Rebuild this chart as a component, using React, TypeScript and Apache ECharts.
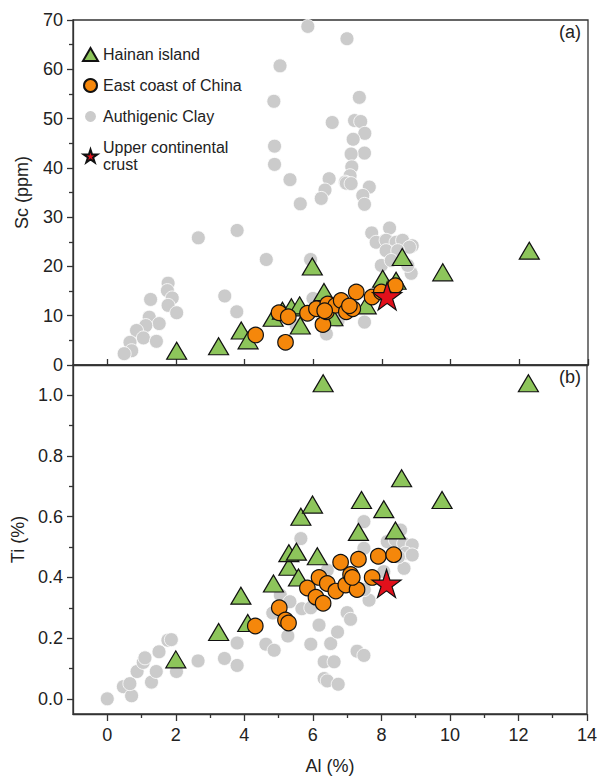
import React, { useEffect, useRef } from "react";
import * as echarts from "echarts";

// ---- Data (Al %, value) ----
const hainanSc: number[][] = [
  [2.02, 2.9], [3.24, 3.8], [3.9, 7.0], [4.1, 5.0], [4.83, 9.6], [5.1, 11.0], [5.36, 11.7],
  [5.6, 12.1], [5.62, 8.0], [5.97, 20.0], [6.31, 14.8], [6.47, 10.0], [6.57, 9.7], [7.54, 12.1],
  [8.02, 17.5], [8.41, 17.1], [8.59, 21.9], [9.77, 18.8], [12.29, 23.2],
];
const hainanTi: number[][] = [
  [2.0, 0.13], [3.25, 0.22], [3.9, 0.34], [4.1, 0.25], [4.85, 0.38], [5.3, 0.435], [5.3, 0.48],
  [5.52, 0.485], [5.58, 0.4], [5.65, 0.6], [5.99, 0.64], [6.13, 0.47], [6.3, 1.04], [7.33, 0.55],
  [7.42, 0.655], [8.07, 0.625], [8.41, 0.555], [8.59, 0.727], [9.77, 0.655], [12.29, 1.04],
];
const eastSc: number[][] = [
  [4.32, 6.1], [5.19, 4.6], [5.0, 10.6], [5.27, 9.8], [5.83, 10.5], [6.09, 11.4], [6.28, 8.2],
  [6.38, 10.8], [6.42, 12.4], [6.65, 12.1], [6.81, 13.1], [6.96, 10.8], [7.15, 11.4], [7.25, 14.8],
  [7.71, 13.8], [7.98, 14.8], [8.39, 16.1], [6.33, 11.0], [7.05, 12.0],
];
const eastTi: number[][] = [
  [4.32, 0.24], [5.02, 0.3], [5.2, 0.26], [5.29, 0.25], [5.84, 0.365], [6.09, 0.335], [6.3, 0.315],
  [6.18, 0.4], [6.42, 0.38], [6.67, 0.355], [6.96, 0.375], [7.1, 0.41], [7.29, 0.36], [7.73, 0.4],
  [6.81, 0.45], [7.33, 0.46], [7.91, 0.47], [8.36, 0.475], [7.15, 0.4],
];
const claySc: number[][] = [
  [5.84, 68.7], [6.98, 66.2], [5.03, 60.7], [4.85, 53.5], [7.34, 54.3], [6.55, 49.2], [7.2, 49.6],
  [7.38, 49.4], [7.5, 47.0], [7.16, 45.8], [7.49, 43.0], [7.1, 42.8], [7.12, 40.2], [7.07, 38.4],
  [6.93, 37.1], [6.46, 37.8], [5.32, 37.6], [4.87, 44.4], [4.87, 40.7], [6.34, 35.5], [7.63, 36.1],
  [6.23, 33.8], [5.62, 32.7], [7.44, 34.4], [7.49, 32.6], [6.96, 36.9], [7.1, 36.8], [3.78, 27.3],
  [2.65, 25.8], [4.63, 21.4], [5.92, 21.4], [7.7, 26.8], [8.22, 27.8], [7.83, 24.9], [8.12, 25.3],
  [8.41, 24.9], [8.6, 25.3], [8.88, 24.2], [8.22, 22.9], [8.5, 22.6], [8.8, 23.9], [8.12, 23.2],
  [8.46, 23.2], [8.85, 18.6], [8.75, 20.2], [7.98, 20.2], [8.27, 21.2], [5.99, 13.5], [7.49, 8.7],
  [3.77, 10.8], [3.42, 14.0], [1.77, 16.6], [1.75, 15.1], [1.89, 13.6], [1.26, 13.3], [1.77, 12.1],
  [2.02, 10.6], [1.22, 9.7], [1.51, 8.4], [1.12, 8.0], [0.85, 7.0], [1.05, 5.5], [0.66, 4.6],
  [1.43, 4.8], [0.71, 2.9], [0.49, 2.3], [6.28, 7.7], [6.72, 9.0], [6.38, 6.3], [5.5, 8.0],
];
const clayTi: number[][] = [
  [0.0, 0.0], [0.47, 0.04], [0.71, 0.01], [0.66, 0.05], [0.87, 0.09], [1.29, 0.055], [1.05, 0.12],
  [1.1, 0.135], [1.43, 0.09], [1.51, 0.155], [1.77, 0.193], [1.87, 0.195], [2.02, 0.09], [2.65, 0.125],
  [3.42, 0.133], [3.79, 0.184], [3.79, 0.11], [4.63, 0.18], [4.87, 0.16], [4.83, 0.283], [5.05, 0.342],
  [5.33, 0.32], [5.27, 0.207], [5.68, 0.297], [5.94, 0.18], [6.18, 0.243], [6.33, 0.122], [6.62, 0.122],
  [6.33, 0.067], [6.42, 0.059], [6.74, 0.048], [6.52, 0.182], [6.72, 0.22], [7.0, 0.284], [7.1, 0.262],
  [7.29, 0.157], [7.49, 0.143], [7.64, 0.325], [8.07, 0.419], [8.66, 0.43], [7.49, 0.584], [5.65, 0.528],
  [8.56, 0.556], [7.49, 0.496], [8.17, 0.518], [8.41, 0.523], [8.65, 0.512], [8.9, 0.507], [8.7, 0.48],
  [8.5, 0.468], [8.9, 0.474], [6.42, 0.424], [5.94, 0.3], [7.5, 0.36],
];
const uccSc: number[][] = [[8.15, 14]];
const uccTi: number[][] = [[8.15, 0.38]];

const xMajor = [0, 2, 4, 6, 8, 10, 12, 14];
const xMinor = [1, 3, 5, 7, 9, 11, 13];
const tiMajor = [0, 0.2, 0.4, 0.6, 0.8, 1.0];
const tiMinor = [0.1, 0.3, 0.5, 0.7, 0.9];

const NAMES = ["Hainan island", "East coast of China", "Authigenic Clay", "Upper continental crust"];
const STAR = "path://M0,-10L2.245,-3.09L9.511,-3.09L3.633,1.18L5.878,8.09L0,3.82L-5.878,8.09L-3.633,1.18L-9.511,-3.09L-2.245,-3.09Z";

const FONT = "'Liberation Sans', Arial, sans-serif";
const AX = "#333";

export default function App() {
  const ref = useRef<HTMLDivElement>(null);
  useEffect(() => {
    if (!ref.current) return;
    const chart = echarts.init(ref.current, undefined, { renderer: "svg" });
    const label = { fontSize: 18, color: "#222", fontFamily: FONT };
    const styles = [
      { symbol: "circle", symbolSize: 14, itemStyle: { color: "#cbcbcb", borderColor: "#ffffff", borderWidth: 0.8, opacity: 1 }, z: 2 },
      { symbol: "triangle", symbolSize: [20, 17], itemStyle: { color: "#8dc55b", borderColor: "#111", borderWidth: 1.2, opacity: 1 }, z: 3 },
      { symbol: "circle", symbolSize: 15.5, itemStyle: { color: "#f5870b", borderColor: "#111", borderWidth: 1.2, opacity: 1 }, z: 4 },
      { symbol: STAR, symbolSize: [29, 28], itemStyle: { color: "#e2101b", borderColor: "#111", borderWidth: 1.2, opacity: 1 }, z: 5 },
    ];
    const sets = [
      [NAMES[2], claySc, clayTi, styles[0]],
      [NAMES[0], hainanSc, hainanTi, styles[1]],
      [NAMES[1], eastSc, eastTi, styles[2]],
      [NAMES[3], uccSc, uccTi, styles[3]],
    ] as any[];
    const series: any[] = [];
    sets.forEach(([name, top, bot, st]) => {
      series.push({ type: "scatter", name, data: top, xAxisIndex: 0, yAxisIndex: 0, ...st });
      series.push({ type: "scatter", name, data: bot, xAxisIndex: 1, yAxisIndex: 1, ...st });
    });
    chart.setOption({
      animation: false,
      textStyle: { fontFamily: FONT },
      grid: [
        { left: 73, top: 20, width: 515, height: 345, show: true, borderColor: AX, borderWidth: 1.3, backgroundColor: "transparent" },
        { left: 73, top: 365, width: 515, height: 349, show: true, borderColor: AX, borderWidth: 1.3, backgroundColor: "transparent" },
      ],
      xAxis: [
        {
          type: "value", gridIndex: 0, min: -1, max: 14, position: "bottom",
          axisLine: { show: true, onZero: false, lineStyle: { color: AX, width: 1.3 } },
          axisTick: { show: true, inside: true, length: 6, customValues: xMajor, lineStyle: { color: AX, width: 1.3 } },
          axisLabel: { show: false }, splitLine: { show: false },
        },
        {
          type: "value", gridIndex: 1, min: -1, max: 14, position: "bottom",
          name: "Al (%)", nameLocation: "middle", nameGap: 43, nameTextStyle: { ...label },
          axisLine: { show: true, onZero: false, lineStyle: { color: AX, width: 1.3 } },
          axisTick: { show: true, length: 7, customValues: xMajor, lineStyle: { color: AX, width: 1.3 } },
          axisLabel: { show: true, customValues: xMajor, margin: 12, ...label },
          splitLine: { show: false },
        },
        {
          type: "value", gridIndex: 1, min: -1, max: 14, position: "bottom",
          axisLine: { show: false, onZero: false },
          axisTick: { show: true, length: 4, customValues: xMinor, lineStyle: { color: AX, width: 1.3 } },
          axisLabel: { show: false }, splitLine: { show: false },
        },
      ],
      yAxis: [
        {
          type: "value", gridIndex: 0, min: 0, max: 70, interval: 10, position: "left",
          name: "Sc (ppm)", nameLocation: "middle", nameGap: 42, nameTextStyle: { ...label },
          axisLine: { show: true, onZero: false, lineStyle: { color: AX, width: 1.3 } },
          axisTick: { show: true, length: 6, lineStyle: { color: AX, width: 1.3 } },
          minorTick: { show: true, splitNumber: 2, length: 4, lineStyle: { color: AX, width: 1.3 } },
          axisLabel: { show: true, margin: 10, ...label },
          splitLine: { show: false }, minorSplitLine: { show: false },
        },
        {
          type: "value", gridIndex: 1, min: -0.05, max: 1.1, position: "left",
          name: "Ti (%)", nameLocation: "middle", nameGap: 42, nameTextStyle: { ...label },
          axisLine: { show: true, onZero: false, lineStyle: { color: AX, width: 1.3 } },
          axisTick: { show: true, length: 6, customValues: tiMajor, lineStyle: { color: AX, width: 1.3 } },
          axisLabel: { show: true, customValues: tiMajor, margin: 10, formatter: (v: number) => v.toFixed(1), ...label },
          splitLine: { show: false },
        },
        {
          type: "value", gridIndex: 1, min: -0.05, max: 1.1, position: "left",
          axisLine: { show: false, onZero: false },
          axisTick: { show: true, length: 4, customValues: tiMinor, lineStyle: { color: AX, width: 1.3 } },
          axisLabel: { show: false }, splitLine: { show: false },
        },
      ],
      legend: {
        orient: "vertical", left: 77, top: 41, itemWidth: 15, itemHeight: 13, itemGap: 14,
        data: NAMES,
        formatter: (n: string) => (n === NAMES[3] ? "Upper continental\ncrust" : n),
        textStyle: { fontSize: 16, color: "#222", fontFamily: FONT, lineHeight: 17 },
      },
      graphic: [
        { type: "text", right: 19, top: 23, style: { text: "(a)", fontSize: 18, fill: "#222", fontFamily: FONT } },
        { type: "text", right: 19, top: 368, style: { text: "(b)", fontSize: 18, fill: "#222", fontFamily: FONT } },
      ],
      series,
    });
    return () => chart.dispose();
  }, []);
  return <div ref={ref} style={{ position: "fixed", left: 0, top: 0, width: 600, height: 778, background: "#fff" }} />;
}
